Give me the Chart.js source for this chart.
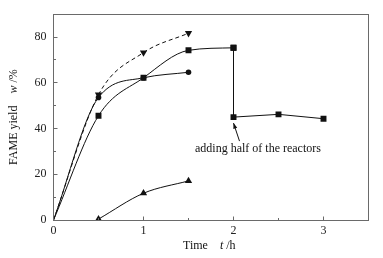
<!DOCTYPE html>
<html>
<head>
<meta charset="utf-8">
<script src="https://cdn.jsdelivr.net/npm/chart.js@4/dist/chart.umd.min.js"></script>
<style>
  html, body { margin: 0; padding: 0; background: #fff; }
  #wrap { width: 383px; height: 258px; }
</style>
</head>
<body>
<div id="wrap"><canvas id="chart" width="383" height="258"></canvas></div>
<script>
// values (time in h, FAME yield in %)
const tDown = [0, 0.5, 1, 1.5];
const yDown = [0, 54.8, 73.2, 81.7];

const tCircle = [0, 0.5, 1, 1.5];
const yCircle = [0, 53.6, 62.2, 64.6];

const tSquareA = [0, 0.5, 1, 1.5, 2];
const ySquareA = [0, 45.6, 62.2, 74.2, 75.3];

const tSquareB = [2, 2, 2.5, 3];
const ySquareB = [75.3, 45, 46.2, 44.3];

const tUp = [0.5, 1, 1.5];
const yUp = [0.4, 11.7, 17.1];

const xTicks = [0, 1, 2, 3];
const xMinor = [0.5, 1.5, 2.5];
const yTicks = [0, 20, 40, 60, 80];
const yMinor = [10, 30, 50, 70];

const noteText = 'adding half of the reactors';
const SERIF = '"Liberation Serif", "DejaVu Serif", serif';

function pts(xs, ys) {
  return xs.map((x, i) => ({ x: x, y: ys[i] }));
}

// frame, inward ticks, axis titles, annotation
const decorPlugin = {
  id: 'decor',
  afterDraw(chart) {
    const ctx = chart.ctx;
    const a = chart.chartArea;
    const xs = chart.scales.x;
    const ys = chart.scales.y;
    ctx.save();
    ctx.strokeStyle = '#6a6a6a';
    ctx.lineWidth = 1;
    const L = Math.floor(a.left) + 0.5, T = Math.floor(a.top) + 0.5;
    const R = Math.floor(a.right) + 0.5, B = Math.floor(a.bottom) + 0.5;
    ctx.strokeRect(L, T, R - L, B - T);

    ctx.beginPath();
    yTicks.forEach(v => {
      const y = Math.floor(ys.getPixelForValue(v)) + 0.5;
      ctx.moveTo(L, y); ctx.lineTo(L + 4, y);
    });
    yMinor.forEach(v => {
      const y = Math.floor(ys.getPixelForValue(v)) + 0.5;
      ctx.moveTo(L, y); ctx.lineTo(L + 2.5, y);
    });
    xTicks.forEach(v => {
      const x = Math.floor(xs.getPixelForValue(v)) + 0.5;
      ctx.moveTo(x, B); ctx.lineTo(x, B - 4);
    });
    xMinor.forEach(v => {
      const x = Math.floor(xs.getPixelForValue(v)) + 0.5;
      ctx.moveTo(x, B); ctx.lineTo(x, B - 2.5);
    });
    ctx.stroke();

    // annotation arrow pointing at the drop point
    const px = xs.getPixelForValue(2);
    const py = ys.getPixelForValue(45);
    const tipX = px, tipY = py + 6;
    const tailX = px + 6, tailY = py + 24;
    ctx.strokeStyle = '#111';
    ctx.beginPath();
    ctx.moveTo(tailX, tailY); ctx.lineTo(tipX, tipY);
    ctx.stroke();
    const ang = Math.atan2(tipY - tailY, tipX - tailX);
    ctx.fillStyle = '#111';
    ctx.beginPath();
    ctx.moveTo(tipX, tipY);
    ctx.lineTo(tipX - 6 * Math.cos(ang - 0.35), tipY - 6 * Math.sin(ang - 0.35));
    ctx.lineTo(tipX - 6 * Math.cos(ang + 0.35), tipY - 6 * Math.sin(ang + 0.35));
    ctx.closePath();
    ctx.fill();

    ctx.font = '12px ' + SERIF;
    ctx.fillStyle = '#111';
    ctx.textBaseline = 'middle';
    ctx.textAlign = 'left';
    ctx.fillText(noteText, 195, 149);

    // axis titles with italic symbols
    const drawParts = (parts, x, y) => {
      let cx = x;
      parts.forEach(p => {
        ctx.font = (p[1] ? 'italic ' : '') + '12px ' + SERIF;
        ctx.fillText(p[0], cx, y);
        cx += ctx.measureText(p[0]).width;
      });
    };
    const measure = parts => parts.reduce((s, p) => {
      ctx.font = (p[1] ? 'italic ' : '') + '12px ' + SERIF;
      return s + ctx.measureText(p[0]).width;
    }, 0);

    const xTitle = [['Time', false], ['    ', false], ['t', true], [' /h', false]];
    drawParts(xTitle, 183, 246);

    const yTitle = [['FAME yield', false], ['    ', false], ['w', true], [' /%', false]];
    const w = measure(yTitle);
    ctx.translate(14, (a.top + a.bottom) / 2);
    ctx.rotate(-Math.PI / 2);
    drawParts(yTitle, -w / 2, 0);
    ctx.restore();
  }
};

const common = {
  borderColor: '#111',
  backgroundColor: '#111',
  pointBorderColor: '#111',
  pointBackgroundColor: '#111',
  borderWidth: 1,
  pointBorderWidth: 0,
  fill: false
};

new Chart(document.getElementById('chart'), {
  type: 'line',
  data: {
    datasets: [
      Object.assign({}, common, {
        label: 'down',
        data: pts(tDown, yDown),
        borderDash: [4, 3],
        cubicInterpolationMode: 'monotone',
        pointStyle: 'triangle',
        rotation: 180,
        pointRadius: [0, 4.2, 4.2, 4.2]
      }),
      Object.assign({}, common, {
        label: 'circle',
        data: pts(tCircle, yCircle),
        cubicInterpolationMode: 'monotone',
        pointStyle: 'circle',
        pointRadius: [0, 2.8, 2.8, 2.8]
      }),
      Object.assign({}, common, {
        label: 'squareA',
        data: pts(tSquareA, ySquareA),
        cubicInterpolationMode: 'monotone',
        pointStyle: 'rect',
        pointRadius: [0, 4.2, 4.2, 4.2, 4.2]
      }),
      Object.assign({}, common, {
        label: 'squareB',
        data: pts(tSquareB, ySquareB),
        tension: 0,
        pointStyle: 'rect',
        pointRadius: 4.2
      }),
      Object.assign({}, common, {
        label: 'up',
        data: pts(tUp, yUp),
        cubicInterpolationMode: 'monotone',
        pointStyle: 'triangle',
        pointRadius: 4.2
      })
    ]
  },
  options: {
    responsive: false,
    animation: false,
    events: [],
    layout: { padding: { top: 13, right: 14.5, left: 0, bottom: 0 } },
    plugins: {
      legend: { display: false },
      tooltip: { enabled: false }
    },
    scales: {
      x: {
        type: 'linear',
        min: 0,
        max: 3.5,
        grid: { display: false, drawTicks: false },
        border: { display: false },
        afterBuildTicks: s => { s.ticks = xTicks.map(v => ({ value: v })); },
        afterFit: s => { s.height = 38; },
        ticks: {
          padding: 4,
          color: '#222',
          font: { family: SERIF, size: 12 }
        }
      },
      y: {
        type: 'linear',
        min: 0,
        max: 90,
        grid: { display: false, drawTicks: false },
        border: { display: false },
        afterBuildTicks: s => { s.ticks = yTicks.map(v => ({ value: v })); },
        afterFit: s => { s.width = 53.5; },
        ticks: {
          padding: 7,
          color: '#222',
          font: { family: SERIF, size: 12 }
        }
      }
    }
  },
  plugins: [decorPlugin]
});
</script>
</body>
</html>
